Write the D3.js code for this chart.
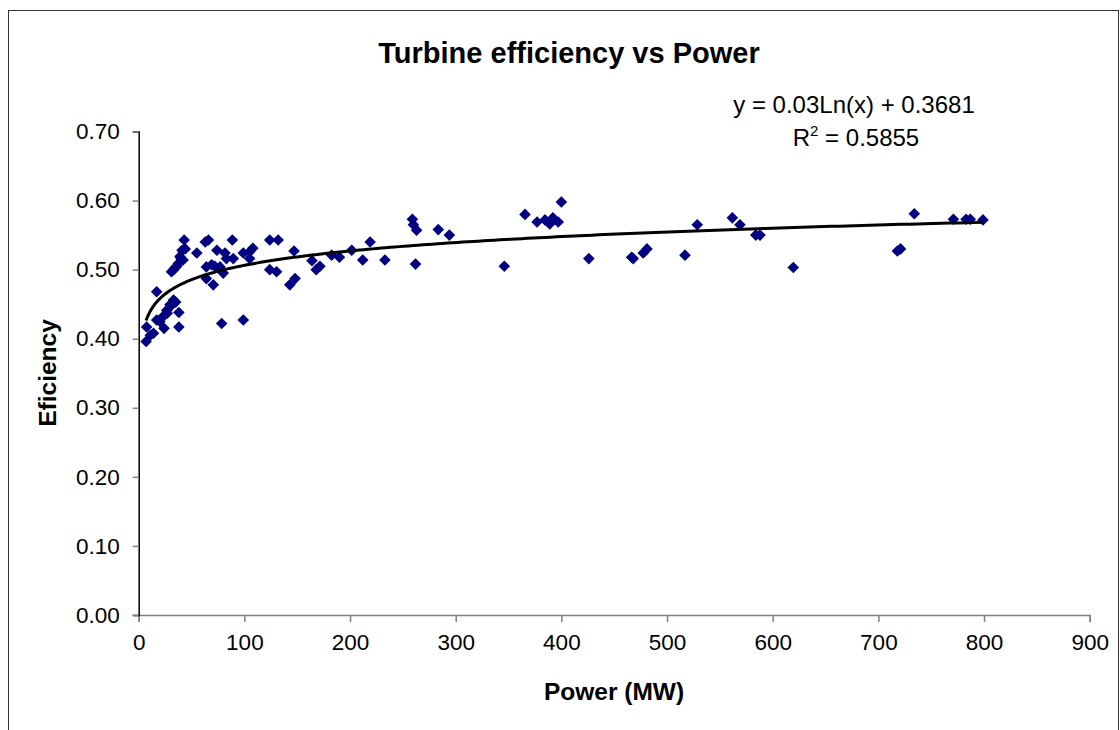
<!DOCTYPE html>
<html>
<head>
<meta charset="utf-8">
<script src="https://cdn.jsdelivr.net/npm/d3@7"></script>
<style>
  body { margin: 0; background: #fff; }
  svg text { font-family: "Liberation Sans", Arial, sans-serif; }
</style>
</head>
<body>
<script>
// power (MW) and efficiency
var power = [7, 11, 7.5, 14, 17, 17, 20, 23, 24, 26.5, 27, 29.6, 31, 33, 35, 38, 38,
  31, 33, 34, 36, 37.5, 39, 40, 41, 42, 43, 44, 55, 63, 66, 64, 64, 70.6, 69, 72, 74, 77, 78.5,
  81.7, 80, 83, 88.6, 89.5, 99, 99, 105, 108, 105, 124, 132, 124, 130.5, 143, 148, 147,
  164, 168, 171.5, 182.6, 190, 201.6, 212, 219, 233, 259, 260, 263, 262, 283.5, 294,
  346, 365.6, 377, 384.5, 389, 392, 397, 400, 426, 466.5, 468, 477.5, 481, 517, 528.6,
  561.8, 569, 584, 588, 619.5, 718, 721, 734, 771, 783, 787, 799];
var efficiency = [0.396, 0.405, 0.417, 0.408, 0.468, 0.427, 0.425, 0.432, 0.415, 0.441, 0.437, 0.449, 0.448, 0.456, 0.453, 0.438, 0.417,
  0.497, 0.500, 0.502, 0.505, 0.509, 0.519, 0.516, 0.528, 0.514, 0.543, 0.530, 0.524, 0.540, 0.543, 0.504, 0.487, 0.478, 0.507, 0.505, 0.528, 0.504, 0.422,
  0.524, 0.495, 0.516, 0.543, 0.516, 0.427, 0.524, 0.526, 0.531, 0.516, 0.543, 0.543, 0.500, 0.497, 0.478, 0.487, 0.527,
  0.513, 0.500, 0.505, 0.521, 0.518, 0.528, 0.514, 0.540, 0.514, 0.573, 0.565, 0.557, 0.508, 0.558, 0.550,
  0.505, 0.580, 0.569, 0.572, 0.566, 0.575, 0.569, 0.598, 0.516, 0.518, 0.516, 0.524, 0.530, 0.521, 0.565,
  0.575, 0.565, 0.550, 0.550, 0.503, 0.527, 0.530, 0.581, 0.573, 0.573, 0.573, 0.572];

var xTicks = [0, 100, 200, 300, 400, 500, 600, 700, 800, 900];
var yTicks = [0, 0.1, 0.2, 0.3, 0.4, 0.5, 0.6, 0.7];

// log trendline y = a ln(x) + b
var trendA = 0.03, trendB = 0.3681;
var trendText = "y = 0.03Ln(x) + 0.3681";
var r2Text = "0.5855";

var width = 1120, height = 730;
var svg = d3.select("body").append("svg").attr("width", width).attr("height", height);

// chart border
svg.append("rect").attr("x", 8.5).attr("y", 10.5).attr("width", 1110).attr("height", 740)
  .attr("fill", "none").attr("stroke", "#333").attr("stroke-width", 1);

var x = d3.scaleLinear().domain([0, 900]).range([138.7, 1089.7]);
var y = d3.scaleLinear().domain([0, 0.7]).range([615, 131.5]);

// x axis
var gx = svg.append("g").attr("transform", "translate(0," + y(0) + ")")
  .call(d3.axisBottom(x).tickValues(xTicks).tickSize(7).tickPadding(12).tickFormat(d3.format("d")));
gx.select(".domain").attr("stroke", "#808080").attr("stroke-width", 1.5);
gx.selectAll(".tick line").attr("stroke", "#808080").attr("stroke-width", 1.5);
gx.selectAll("text").attr("font-size", 22.5).attr("fill", "#000")
  .style("font-family", "'Liberation Sans', Arial, sans-serif");

// y axis
var gy = svg.append("g").attr("transform", "translate(" + x(0) + ",0)")
  .call(d3.axisLeft(y).tickValues(yTicks).tickSize(6).tickPadding(13).tickFormat(d3.format(".2f")));
gy.select(".domain").attr("stroke", "#000").attr("stroke-width", 1.5);
gy.selectAll(".tick line").attr("stroke", "#808080").attr("stroke-width", 1.5);
gy.selectAll("text").attr("font-size", 22.5).attr("fill", "#000")
  .style("font-family", "'Liberation Sans', Arial, sans-serif");

// points
var pts = power.map(function(p, i) { return [p, efficiency[i]]; });
var s = 5.8;
svg.append("g").selectAll("path").data(pts).enter().append("path")
  .attr("d", function(d) {
    var cx = x(d[0]), cy = y(d[1]);
    return "M" + cx + "," + (cy - s) + "L" + (cx + s) + "," + cy + "L" + cx + "," + (cy + s) + "L" + (cx - s) + "," + cy + "Z";
  })
  .attr("fill", "#000080");

// trendline
var xMin = d3.min(power), xMax = d3.max(power);
var trendPts = d3.range(0, 201).map(function(i) {
  var p = xMin + (xMax - xMin) * Math.pow(i / 200, 2);
  return [p, trendA * Math.log(p) + trendB];
});
svg.append("path").datum(trendPts)
  .attr("d", d3.line().x(function(d) { return x(d[0]); }).y(function(d) { return y(d[1]); }))
  .attr("fill", "none").attr("stroke", "#000").attr("stroke-width", 3);

// equation labels
svg.append("text").attr("x", 854).attr("y", 113).attr("text-anchor", "middle")
  .attr("font-size", 24).text(trendText);
var r2 = svg.append("text").attr("x", 856).attr("y", 146).attr("text-anchor", "middle").attr("font-size", 24);
r2.append("tspan").text("R");
r2.append("tspan").attr("font-size", 15).attr("dy", -10).text("2");
r2.append("tspan").attr("dy", 10).text(" = " + r2Text);

// titles
svg.append("text").attr("x", 569).attr("y", 63).attr("text-anchor", "middle")
  .attr("font-size", 29).attr("font-weight", "bold").text("Turbine efficiency vs Power");
svg.append("text").attr("x", 614).attr("y", 700).attr("text-anchor", "middle")
  .attr("font-size", 24.5).attr("font-weight", "bold").text("Power (MW)");
svg.append("text").attr("transform", "translate(56,373) rotate(-90)").attr("text-anchor", "middle")
  .attr("font-size", 24.5).attr("font-weight", "bold").text("Eficiency");
</script>
</body>
</html>
